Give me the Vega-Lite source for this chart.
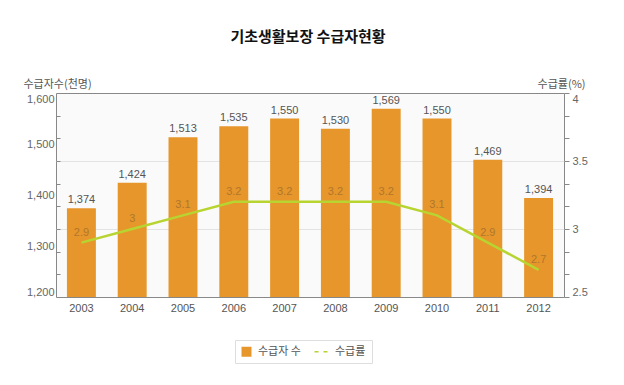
{
  "$schema": "https://vega.github.io/schema/vega-lite/v6.json",
  "width": 508,
  "height": 204,
  "autosize": {"type": "none"},
  "padding": {"left": 56, "top": 93, "right": 60, "bottom": 88},
  "background": "white",
  "title": {
    "text": "기초생활보장 수급자현황",
    "font": "Noto Sans CJK KR",
    "fontSize": 15,
    "fontWeight": "bold",
    "color": "#111111",
    "anchor": "middle",
    "offset": 33,
    "dx": -2
  },
  "data": {
    "values": [
      {"year": "2003", "count": 1374, "rate": 2.9},
      {"year": "2004", "count": 1424, "rate": 3.0},
      {"year": "2005", "count": 1513, "rate": 3.1},
      {"year": "2006", "count": 1535, "rate": 3.2},
      {"year": "2007", "count": 1550, "rate": 3.2},
      {"year": "2008", "count": 1530, "rate": 3.2},
      {"year": "2009", "count": 1569, "rate": 3.2},
      {"year": "2010", "count": 1550, "rate": 3.1},
      {"year": "2011", "count": 1469, "rate": 2.9},
      {"year": "2012", "count": 1394, "rate": 2.7}
    ]
  },
  "encoding": {
    "x": {
      "field": "year",
      "type": "ordinal",
      "scale": {"paddingInner": 0.43, "paddingOuter": 0.215},
      "axis": {
        "title": null,
        "labelAngle": 0,
        "ticks": false,
        "domain": false,
        "labelPadding": 5,
        "labelFont": "Liberation Sans",
        "labelFontSize": 11,
        "labelColor": "#555555"
      }
    }
  },
  "layer": [
    {
      "encoding": {
        "y": {
          "field": "count",
          "type": "quantitative",
          "scale": {"domain": [1200, 1600], "nice": false, "zero": false},
          "axis": {
            "orient": "left",
            "title": "수급자수(천명)",
            "titleAngle": 0,
            "titleX": -33,
            "titleY": -9,
            "titleAlign": "left",
            "titleBaseline": "middle",
            "titleFont": "Noto Sans CJK KR",
            "titleFontSize": 11,
            "titleFontWeight": "normal",
            "titleColor": "#555555",
            "values": [1200, 1244.444, 1288.889, 1300, 1333.333, 1377.778, 1400, 1422.222, 1466.667, 1500, 1511.111, 1555.556, 1600],
            "labelExpr": "datum.value % 100 == 0 ? format(datum.value, ',') : ''",
            "labelFlush": true,
            "labelFont": "Liberation Sans",
            "labelFontSize": 11,
            "labelColor": "#666666",
            "labelPadding": 6,
            "grid": false,
            "domain": false,
            "tickSize": -4,
            "tickColor": "#888888",
            "tickOpacity": {"condition": {"test": "datum.value % 100 == 0", "value": 0}, "value": 1}
          }
        }
      },
      "layer": [
        {
          "mark": {"type": "bar", "color": "#e6962b", "clip": true},
          "encoding": {"color": {"datum": "수급자 수"}}
        },
        {
          "mark": {
            "type": "text",
            "baseline": "bottom",
            "dy": -3,
            "font": "Liberation Sans",
            "fontSize": 11,
            "color": "#555555"
          },
          "encoding": {"text": {"field": "count", "type": "quantitative", "format": ","}}
        }
      ]
    },
    {
      "encoding": {
        "y": {
          "field": "rate",
          "type": "quantitative",
          "scale": {"domain": [2.5, 4], "nice": false, "zero": false},
          "axis": {
            "orient": "right",
            "title": "수급률(%)",
            "titleAngle": 0,
            "titleX": 21,
            "titleY": -9,
            "titleAlign": "right",
            "titleBaseline": "middle",
            "titleFont": "Noto Sans CJK KR",
            "titleFontSize": 11,
            "titleFontWeight": "normal",
            "titleColor": "#555555",
            "values": [2.5, 2.6667, 2.8333, 3, 3.1667, 3.3333, 3.5, 3.6667, 3.8333, 4],
            "labelExpr": "(datum.value * 2) % 1 == 0 ? format(datum.value, '') : ''",
            "labelFlush": true,
            "labelFont": "Liberation Sans",
            "labelFontSize": 11,
            "labelColor": "#666666",
            "labelPadding": 3,
            "domain": false,
            "tickSize": 5,
            "tickColor": "#888888",
            "grid": true,
            "gridColor": "#e3e3e3",
            "gridOpacity": {"condition": {"test": "datum.value == 3 || datum.value == 3.5", "value": 1}, "value": 0}
          }
        }
      },
      "layer": [
        {
          "mark": {"type": "line", "color": "#b8d430", "strokeWidth": 2.5},
          "encoding": {
            "color": {
              "datum": "수급률",
              "legend": {
                "encode": {
                  "symbols": {
                    "update": {
                      "shape": {"signal": "datum.value === '수급률' ? 'stroke' : 'square'"},
                      "size": {"signal": "datum.value === '수급률' ? 324 : 100"},
                      "strokeDash": {"signal": "datum.value === '수급률' ? [4, 5] : [1, 0]"},
                      "strokeWidth": {"signal": "datum.value === '수급률' ? 1.5 : 0"},
                      "fill": {"signal": "datum.value === '수급률' ? 'transparent' : '#e6962b'"},
                      "stroke": {"signal": "datum.value === '수급률' ? '#c8dc60' : 'transparent'"},
                      "opacity": {"value": 1}
                    }
                  }
                }
              }
            }
          }
        },
        {
          "mark": {
            "type": "text",
            "baseline": "bottom",
            "dy": -5,
            "font": "Liberation Sans",
            "fontSize": 11,
            "color": "#b0772c"
          },
          "encoding": {"text": {"field": "rate", "type": "quantitative", "format": ""}}
        }
      ]
    }
  ],
  "resolve": {"scale": {"y": "independent"}},
  "config": {
    "view": {"fill": "#fafafa", "stroke": "#888888", "strokeWidth": 1},
    "range": {"category": ["#e6962b", "#b8d430"]},
    "legend": {
      "orient": "none",
      "legendX": 179,
      "legendY": 247,
      "direction": "horizontal",
      "title": null,
      "padding": 6,
      "strokeColor": "#dddddd",
      "labelFont": "Noto Sans CJK KR",
      "labelFontSize": 11,
      "labelColor": "#555555",
      "columnPadding": 10,
      "labelOffset": 6
    },
    "font": "Liberation Sans"
  }
}
